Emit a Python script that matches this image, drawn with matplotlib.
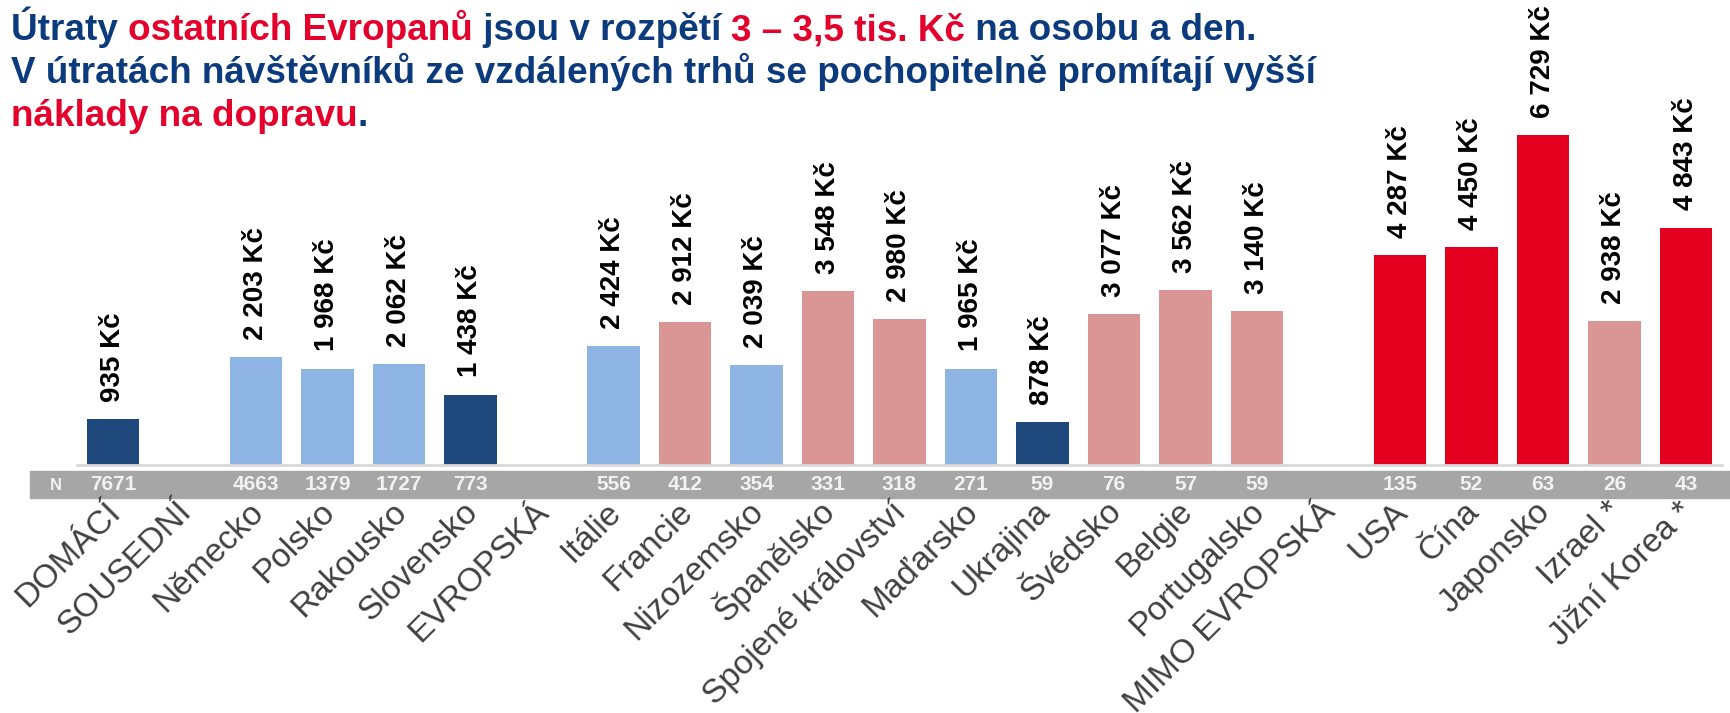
import numpy as np
import matplotlib
matplotlib.use("Agg")
import matplotlib.pyplot as plt
from matplotlib.patches import Rectangle
from matplotlib import transforms

plt.rcParams['font.family'] = ['Liberation Sans', 'DejaVu Sans']

categories = ['DOMÁCÍ', 'SOUSEDNÍ', 'Německo', 'Polsko', 'Rakousko', 'Slovensko',
              'EVROPSKÁ', 'Itálie', 'Francie', 'Nizozemsko', 'Španělsko',
              'Spojené království', 'Maďarsko', 'Ukrajina', 'Švédsko', 'Belgie',
              'Portugalsko', 'MIMO EVROPSKÁ', 'USA', 'Čína', 'Japonsko',
              'Izrael *', 'Jižní Korea *']
values = [935, np.nan, 2203, 1968, 2062, 1438,
          np.nan, 2424, 2912, 2039, 3548,
          2980, 1965, 878, 3077, 3562,
          3140, np.nan, 4287, 4450, 6729,
          2938, 4843]
n_counts = ['7671', '', '4663', '1379', '1727', '773',
            '', '556', '412', '354', '331',
            '318', '271', '59', '76', '57',
            '59', '', '135', '52', '63',
            '26', '43']
groups = ['dark', '', 'light', 'light', 'light', 'dark',
          '', 'light', 'pink', 'light', 'pink',
          'pink', 'light', 'dark', 'pink', 'pink',
          'pink', '', 'red', 'red', 'red',
          'pink', 'red']

palette = {'dark': '#1F497D', 'light': '#8EB4E3', 'pink': '#D99694', 'red': '#E3001F', '': 'white'}
NAVY = '#0B3B7C'
RED = '#E4002B'

W, H = 1731, 713
fig = plt.figure(figsize=(W / 100, H / 100), dpi=100)

base_y = 465
ax = fig.add_axes([77.25 / W, 1 - base_y / H, 1644.5 / W, base_y / H])
x = np.arange(len(categories))
ax.bar(x, values, width=0.74, color=[palette[g] for g in groups])
ax.set_xlim(-0.5, len(categories) - 0.5)
ax.set_ylim(0, base_y / 0.049)
for s in ['top', 'left', 'right']:
    ax.spines[s].set_visible(False)
ax.spines['bottom'].set_color('#D9D9D9')
ax.spines['bottom'].set_linewidth(2)
ax.set_xticks([])
ax.set_yticks([])

for xi, v in zip(x, values):
    if np.isnan(v):
        continue
    lbl = f'{int(v):,}'.replace(',', ' ') + ' Kč'
    ax.annotate(lbl, (xi, v), xytext=(0, 12.5), textcoords='offset points',
                rotation=90, ha='center', va='bottom', fontsize=20,
                fontweight='bold', color='black')

# grey band with sample sizes
fig.patches.append(Rectangle((30 / W, 1 - 498 / H), 1 - 30 / W, 27 / H,
                             transform=fig.transFigure, color='#A6A6A6', zorder=-1))
band_y = 1 - 485 / H
fig.text(56 / W, band_y, 'N', color='#F2F2F2', fontsize=12, fontweight='bold',
         ha='center', va='center')
band = transforms.blended_transform_factory(ax.transData, fig.transFigure)
for xi, n in zip(x, n_counts):
    ax.text(xi, band_y, n, transform=band, color='#F2F2F2', fontsize=15,
            fontweight='bold', ha='center', va='center', clip_on=False)

# category labels
for xi, c in zip(x, categories):
    ax.text(xi + 0.12, 1 - 513 / H, c, transform=band, rotation=45,
            rotation_mode='anchor', ha='right', va='baseline', fontsize=24,
            color='#404040', clip_on=False)

# title with mixed colours
title_lines = [
    [('Útraty ', NAVY), ('ostatních Evropanů', RED), (' jsou v rozpětí ', NAVY),
     ('3 – 3,5 tis. Kč', RED), (' na osobu a den.', NAVY)],
    [('V útratách návštěvníků ze vzdálených trhů se pochopitelně promítají vyšší', NAVY)],
    [('náklady na dopravu', RED), ('.', NAVY)],
]
title_fs = 26.6
baselines = [40, 83, 126]
renderer = fig.canvas.get_renderer()


def text_width(s):
    t = fig.text(0, 0, s + 'x', fontsize=title_fs, fontweight='bold')
    w1 = t.get_window_extent(renderer).width
    t.remove()
    t = fig.text(0, 0, 'x', fontsize=title_fs, fontweight='bold')
    w2 = t.get_window_extent(renderer).width
    t.remove()
    return w1 - w2


for pieces, by in zip(title_lines, baselines):
    prefix = ''
    for txt, col in pieces:
        xpos = 11 + text_width(prefix) if prefix else 11
        fig.text(xpos / W, 1 - by / H, txt, fontsize=title_fs, fontweight='bold',
                 color=col, ha='left', va='baseline')
        prefix += txt

fig.savefig('out.png', dpi=100)
